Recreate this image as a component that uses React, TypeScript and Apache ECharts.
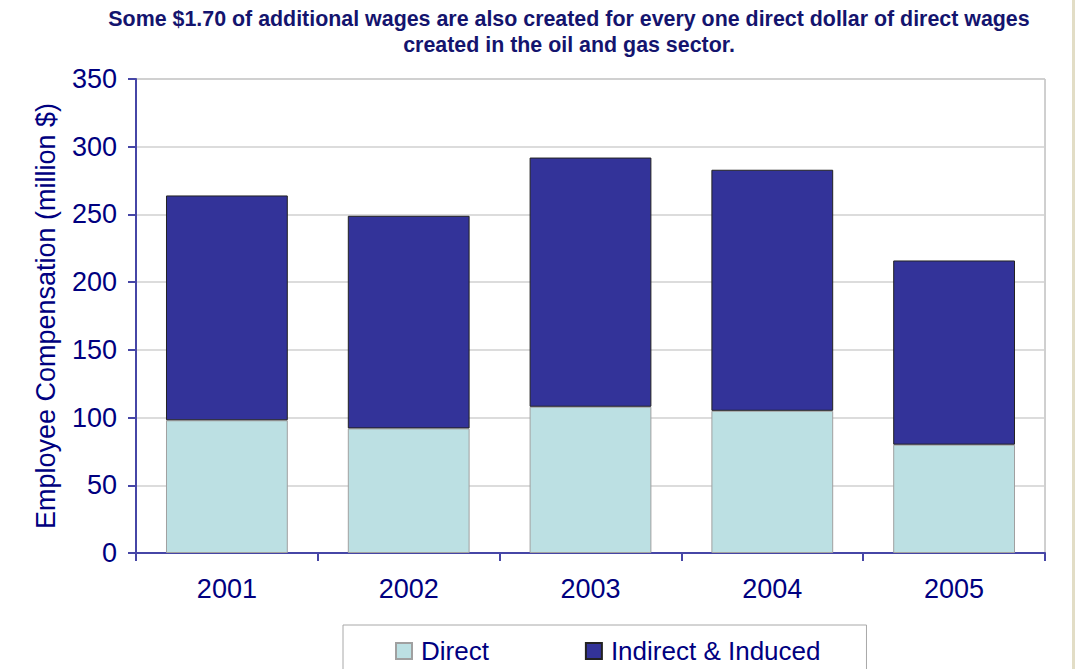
import React, { useEffect, useRef } from "react";
import * as echarts from "echarts";

const years = ["2001", "2002", "2003", "2004", "2005"];
const direct = [98, 92, 108, 105, 80];
const indirect = [166, 157, 184, 178, 136];
const titleText =
  "Some $1.70 of additional wages are also created for every one direct dollar of direct wages\ncreated in the oil and gas sector.";
const yAxisName = "Employee Compensation (million $)";

export default function App() {
  const ref = useRef<HTMLDivElement>(null);
  useEffect(() => {
    if (!ref.current) return;
    const chart = echarts.init(ref.current, null, { renderer: "svg" });
    const navy = "#000080";
    const axisColor = "#4646a6";
    chart.setOption({
      animation: false,
      backgroundColor: "#ffffff",
      textStyle: { fontFamily: "Arial, 'Liberation Sans', sans-serif" },
      title: {
        text: titleText,
        left: 564,
        textAlign: "center",
        top: 1,
        textStyle: {
          fontSize: 21.4,
          fontWeight: "bold",
          color: "#14146e",
          lineHeight: 26,
          fontFamily: "Arial, 'Liberation Sans', sans-serif",
        },
      },
      grid: {
        left: 136,
        right: 30,
        top: 79,
        bottom: 116,
        show: true,
        borderColor: "#a0a0a0",
        borderWidth: 1,
      },
      legend: {
        left: 343,
        top: 625,
        orient: "horizontal",
        padding: [13, 46, 20, 52],
        itemGap: 96,
        itemWidth: 16,
        itemHeight: 16,
        icon: "rect",
        borderColor: "#a8a8a8",
        borderWidth: 1,
        textStyle: { fontSize: 26, color: navy, padding: [0, 0, 0, 4] },
        data: ["Direct", "Indirect & Induced"],
      },
      xAxis: {
        type: "category",
        data: years,
        axisLine: { lineStyle: { color: axisColor, width: 2 } },
        axisTick: { show: true, length: 8, lineStyle: { color: axisColor, width: 2 } },
        axisLabel: { fontSize: 27, color: navy, margin: 22 },
        splitLine: { show: false },
      },
      yAxis: {
        type: "value",
        min: 0,
        max: 350,
        interval: 50,
        name: yAxisName,
        nameLocation: "middle",
        nameGap: 77,
        nameRotate: 90,
        nameTextStyle: { fontSize: 27, color: navy },
        axisLine: { show: true, lineStyle: { color: axisColor, width: 2 } },
        axisTick: { show: true, length: 8, lineStyle: { color: axisColor, width: 2 } },
        axisLabel: { fontSize: 27, color: navy, margin: 19 },
        splitLine: { lineStyle: { color: "#d0d0d0", width: 1.5 } },
      },
      series: [
        {
          name: "Direct",
          type: "bar",
          stack: "total",
          data: direct,
          barWidth: "67%",
          itemStyle: { color: "#bce0e3", borderColor: "#a0a0a0", borderWidth: 1 },
        },
        {
          name: "Indirect & Induced",
          type: "bar",
          stack: "total",
          data: indirect,
          barWidth: "67%",
          itemStyle: { color: "#333399", borderColor: "#222222", borderWidth: 1 },
        },
      ],
      graphic: [
        {
          type: "rect",
          shape: { x: 1072, y: 0, width: 3, height: 669 },
          style: { fill: "#e2ddc6" },
          silent: true,
        },
      ],
    });
    return () => chart.dispose();
  }, []);
  return (
    <div
      ref={ref}
      style={{ position: "fixed", left: 0, top: 0, width: 1075, height: 669 }}
    />
  );
}
